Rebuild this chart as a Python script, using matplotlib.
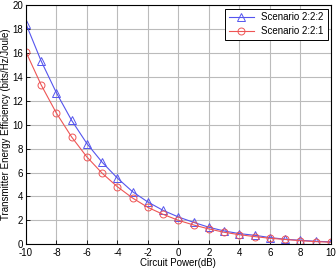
import matplotlib
matplotlib.use("Agg")
import matplotlib.pyplot as plt

plt.rcParams["font.family"] = ["Liberation Sans", "DejaVu Sans"]
plt.rcParams["axes.unicode_minus"] = False

circuit_power = [-10, -9, -8, -7, -6, -5, -4, -3, -2, -1, 0, 1, 2, 3, 4, 5, 6, 7, 8, 9, 10]
ee_222 = [18.45, 15.33, 12.67, 10.36, 8.42, 6.86, 5.53, 4.39, 3.53, 2.83, 2.28,
          1.83, 1.42, 1.11, 0.89, 0.75, 0.56, 0.42, 0.33, 0.25, 0.2]
ee_221 = [16.1, 13.33, 10.97, 8.97, 7.3, 5.94, 4.81, 3.86, 3.08, 2.5, 2.0,
          1.61, 1.28, 1.0, 0.8, 0.64, 0.5, 0.4, 0.3, 0.22, 0.17]
x_ticks = [-10, -8, -6, -4, -2, 0, 2, 4, 6, 8, 10]
y_ticks = [0, 2, 4, 6, 8, 10, 12, 14, 16, 18, 20]

fig = plt.figure(figsize=(3.36, 2.69), dpi=100)
ax = fig.add_axes([0.077, 0.092, 0.908, 0.889])

ax.plot(circuit_power, ee_222, color="#5555ee", lw=0.8, marker="^", ms=5.5,
        mfc="none", mew=0.7, label="Scenario 2:2:2")
ax.plot(circuit_power, ee_221, color="#ee5555", lw=0.8, marker="o", ms=5,
        mfc="none", mew=0.7, label="Scenario 2:2:1")

ax.set_xlim(-10, 10)
ax.set_ylim(0, 20)
ax.set_xticks(x_ticks)
ax.set_yticks(y_ticks)
ax.tick_params(direction="in", labelsize=7, length=3, width=0.6, pad=2)
ax.tick_params(axis="x", pad=3)
ax.grid(True, color="#bbbbbb", lw=0.8)
for s in ax.spines.values():
    s.set_linewidth(0.8)

ax.set_xlabel("Circuit Power(dB)", fontsize=7, labelpad=0)
ax.set_ylabel("Transmitter Energy Efficiency (bits/Hz/Joule)", fontsize=7, labelpad=1)

leg = ax.legend(loc="upper right", fontsize=7, fancybox=False, framealpha=1,
                edgecolor="black", handlelength=2.5, borderpad=0.4,
                labelspacing=0.4, borderaxespad=0.35)
leg.get_frame().set_linewidth(0.7)

fig.savefig("out.png", dpi=100)
